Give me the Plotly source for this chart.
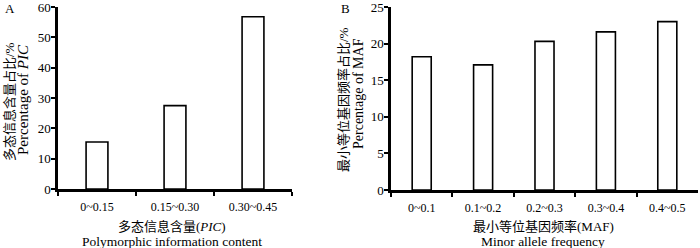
import plotly.graph_objects as go

pic_cats = ["0~0.15", "0.15~0.30", "0.30~0.45"]
pic_vals = [15.5, 27.5, 56.8]
maf_cats = ["0~0.1", "0.1~0.2", "0.2~0.3", "0.3~0.4", "0.4~0.5"]
maf_vals = [18.2, 17.1, 20.3, 21.6, 23.0]

FONT = "Liberation Serif, Times New Roman, Noto Sans CJK SC, serif"
W, H = 700, 248
FS = 12

def px_x(p):
    return p / W

def px_y(p):
    return 1 - p / H

fig = go.Figure()
fig.add_trace(go.Bar(x=pic_cats, y=pic_vals, width=0.28, xaxis="x", yaxis="y",
                     marker=dict(color="white", line=dict(color="black", width=1.6))))
fig.add_trace(go.Bar(x=maf_cats, y=maf_vals, width=0.31, xaxis="x2", yaxis="y2",
                     marker=dict(color="white", line=dict(color="black", width=1.6))))

axis_common = dict(showline=True, linecolor="black", linewidth=2.5, ticks="outside",
                   ticklen=4, tickwidth=2, tickcolor="black", showgrid=False, zeroline=False,
                   automargin=False, ticklabeloverflow="allow")
xfont = dict(family=FONT, size=12, color="black")
yfont = dict(family=FONT, size=13, color="black")

fig.update_layout(
    width=W, height=H, margin=dict(l=0, r=0, t=0, b=0, autoexpand=False),
    plot_bgcolor="white", paper_bgcolor="white", showlegend=False,
    xaxis=dict(domain=[px_x(58), px_x(292)], anchor="y", type="category",
               tickson="boundaries", ticklabelstandoff=5, tickfont=xfont, **axis_common),
    yaxis=dict(domain=[px_y(189), px_y(7)], anchor="x", range=[0, 60], dtick=10,
               ticklabelstandoff=-2, tickfont=yfont, **axis_common),
    xaxis2=dict(domain=[px_x(391), px_x(698)], anchor="y2", type="category",
                tickson="boundaries", ticklabelstandoff=5, tickfont=xfont, **axis_common),
    yaxis2=dict(domain=[px_y(190), px_y(7)], anchor="x2", range=[0, 25], dtick=5,
                ticklabelstandoff=-2, tickfont=yfont, **axis_common),
)

ann = []
def text(x, y, t, angle=0, xanchor="center", yanchor="middle", size=FS):
    ann.append(dict(x=px_x(x), y=px_y(y), xref="paper", yref="paper", text=t,
                    showarrow=False, textangle=angle, xanchor=xanchor, yanchor=yanchor,
                    borderpad=0, font=dict(family=FONT, size=size, color="black")))

text(4, 9, "A", xanchor="left", size=13)
text(340, 9, "B", xanchor="left", size=13)
text(9, 102, "多态信息含量占比/%", angle=-90, size=13)
text(23, 100, "Percentage of <i>PIC</i>", angle=-90, size=15)
text(172, 226, "多态信息含量(<i>PIC</i>)", size=13)
text(172, 241, "Polymorphic information content", size=13.5)
text(343, 100, "最小等位基因频率占比/%", angle=-90, size=13)
text(358, 94, "Percentage of MAF", angle=-90, size=14)
text(543, 226, "最小等位基因频率(MAF)", size=13)
text(543, 241, "Minor allele frequency", size=13.5)
fig.update_layout(annotations=ann)

fig.write_html("out.html", config={"displayModeBar": False},
               post_script="document.body.style.margin='0';document.body.style.overflow='hidden';")
